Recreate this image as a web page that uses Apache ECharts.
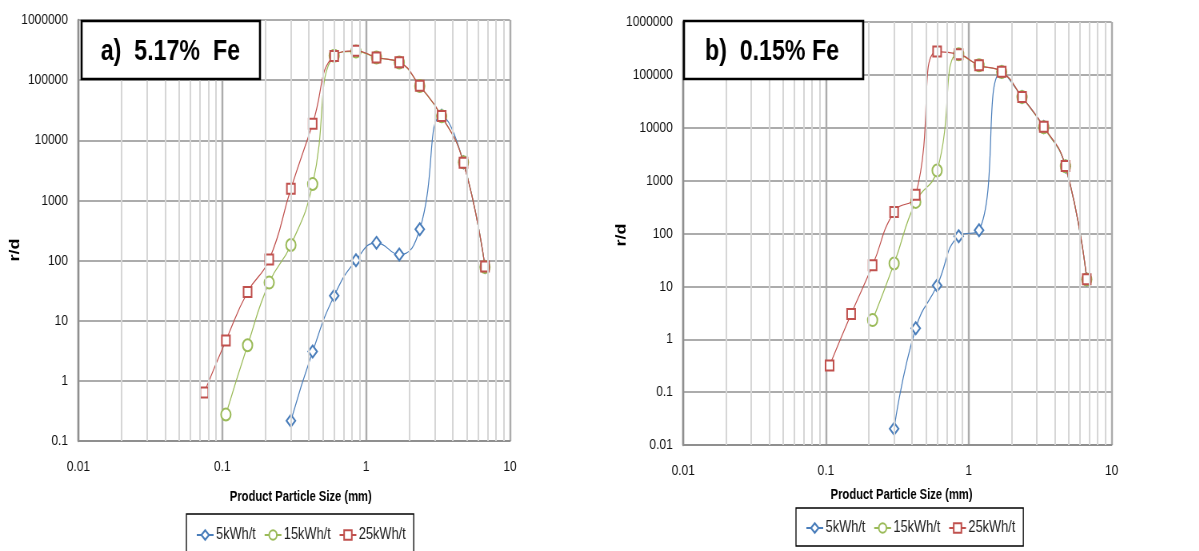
<!DOCTYPE html>
<html>
<head>
<meta charset="utf-8">
<title>r/d vs product particle size</title>
<script src="https://cdn.jsdelivr.net/npm/echarts@6/dist/echarts.min.js"></script>
<style>
  html, body { margin: 0; padding: 0; background: #fff; overflow: hidden; width: 1199px; height: 551px; }
  #wrap { width: 1199px; height: 551px; overflow: hidden; position: relative; }
  /* The figure is laid out on a wider canvas and condensed horizontally,
     giving the narrow lettering and upright oval markers of the plot. */
  #chart { width: 1499px; height: 551px; transform: scaleX(0.8); transform-origin: 0 0; position: absolute; left: 0; top: 0; }
</style>
</head>
<body>
<div id="wrap"><div id="chart"></div></div>
<script>
// Sieve sizes (mm) shared by every curve; each series ends at the coarsest size.
const sizes = [0.075, 0.106, 0.15, 0.212, 0.3, 0.425, 0.6, 0.85, 1.18, 1.7, 2.36, 3.35, 4.75, 6.7];

// Panel a) 5.17% Fe
const a5kWh  = [0.217, 3.07, 26, 101, 197, 126, 331, 25500, 4300, 78];
const a15kWh = [0.275, 3.9, 43, 182, 1870, 255000, 300000, 238000, 196000, 80000, 25000, 4300, 78];
const a25kWh = [0.64, 4.7, 30, 104, 1560, 18900, 253000, 307000, 238000, 199000, 80300, 25300, 4230, 80];

// Panel b) 0.15% Fe
const b5kWh  = [0.0203, 1.61, 10.4, 89, 115, 114000, 38000, 10300, 1850, 13.5];
const b15kWh = [2.3, 27, 396, 1550, 246000, 152000, 113000, 38000, 10200, 1870, 13.5];
const b25kWh = [0.32, 3.0, 25, 256, 543, 276000, 246000, 152000, 114000, 38000, 10500, 1890, 13.6];

const seriesNames = ['5kWh/t', '15kWh/t', '25kWh/t'];
const panelTitles = ['a)  5.17%  Fe', 'b)  0.15% Fe'];
const xAxisTitle = 'Product Particle Size (mm)';
const yAxisTitle = 'r/d';
const minorX = [0.02, 0.03, 0.04, 0.05, 0.06, 0.07, 0.08, 0.09,
                0.2, 0.3, 0.4, 0.5, 0.6, 0.7, 0.8, 0.9,
                2, 3, 4, 5, 6, 7, 8, 9];

const COLORS = ['#4A7EBB', '#9BBB59', '#C0504D'];
const SYMBOLS = [['emptyDiamond', [11, 12]], ['emptyCircle', [12, 12]], ['emptyRect', [10, 10]]];
const FONT = '"Liberation Sans", Arial, sans-serif';

// Align a value list with the tail of the size list.
function pairs(values) {
  const off = sizes.length - values.length;
  return values.map((v, i) => [sizes[off + i], v]);
}

function fmt(v) { return String(+Number(v).toPrecision(6)); }

const grids = [
  { left: 98, top: 20, width: 539.5, height: 421 },
  { left: 854, top: 22, width: 535.5, height: 423 }
];

function xAxisFor(i) {
  return {
    type: 'log', logBase: 10, gridIndex: i, min: 0.01, max: 10, splitNumber: 10, z: 1,
    axisLine: { show: true, lineStyle: { color: '#8f8f8f', width: 2 } },
    axisTick: { show: false },
    axisLabel: { margin: 18, fontSize: 15, color: '#111', fontFamily: FONT, formatter: fmt },
    splitLine: { show: true, lineStyle: { color: '#acacac', width: 2.4 } }
  };
}
function yAxisFor(i, min) {
  return {
    type: 'log', logBase: 10, gridIndex: i, min: min, max: 1000000, splitNumber: 10, z: 1,
    axisLine: { show: true, lineStyle: { color: '#8f8f8f', width: 2.4 } },
    axisTick: { show: false },
    axisLabel: { margin: 13, fontSize: 15, color: '#111', fontFamily: FONT, formatter: fmt },
    splitLine: { show: true, lineStyle: { color: '#acacac', width: 2 } }
  };
}

function curve(idx, panel, values) {
  return {
    type: 'line', name: seriesNames[idx], xAxisIndex: panel, yAxisIndex: panel,
    data: pairs(values), smooth: 0.5, z: 2 + idx,
    symbol: SYMBOLS[idx][0], symbolSize: SYMBOLS[idx][1],
    lineStyle: { width: 1.2, color: COLORS[idx] },
    itemStyle: { color: COLORS[idx], borderColor: COLORS[idx], borderWidth: 1.3 },
    emphasis: { disabled: true }
  };
}

// Light vertical lines at 2..9 within every decade
function minorGrid(panel) {
  return {
    type: 'line', xAxisIndex: panel, yAxisIndex: panel, data: [], silent: true, z: 0,
    markLine: {
      silent: true, animation: false, symbol: ['none', 'none'],
      label: { show: false },
      lineStyle: { color: '#d6d6d6', width: 2, type: 'solid' },
      emphasis: { disabled: true },
      data: minorX.map(v => ({ xAxis: v }))
    }
  };
}

function legendFor(left, top, padTop) {
  return {
    left: left, top: top, orient: 'horizontal',
    data: seriesNames,
    borderColor: '#000', borderWidth: 1.3, backgroundColor: '#fff',
    padding: [padTop, 10, 10, 12],
    itemWidth: 21, itemHeight: 12, itemGap: 10,
    textStyle: { fontFamily: FONT, fontSize: 16, color: '#222', padding: [0, 0, 0, -2] },
    selectedMode: false
  };
}

function titleBox(x, y, w, h, text, cx) {
  return [
    { type: 'rect', z: 100, shape: { x: x, y: y, width: w, height: h },
      style: { fill: '#fff', stroke: '#000', lineWidth: 2.6 } },
    { type: 'text', z: 101, x: cx, y: y + h / 2 + 2,
      style: { text: text, font: 'bold 29px ' + FONT, fill: '#000', align: 'center', verticalAlign: 'middle' } }
  ];
}

function axisTitles(xc, xy, yc, yy) {
  return [
    { type: 'text', z: 100, x: xc, y: xy,
      style: { text: xAxisTitle, font: 'bold 14px ' + FONT, fill: '#000', align: 'center', verticalAlign: 'middle' } },
    { type: 'text', z: 100, x: yc, y: yy, rotation: Math.PI / 2,
      style: { text: yAxisTitle, font: 'bold 18px ' + FONT, fill: '#000', align: 'center', verticalAlign: 'middle' } }
  ];
}

const chart = echarts.init(document.getElementById('chart'), null, { renderer: 'canvas' });
chart.setOption({
  backgroundColor: '#fff',
  animation: false,
  grid: grids,
  xAxis: [xAxisFor(0), xAxisFor(1)],
  yAxis: [yAxisFor(0, 0.1), yAxisFor(1, 0.01)],
  legend: [legendFor(233, 514, 13), legendFor(995, 508, 12)],
  series: [
    minorGrid(0), minorGrid(1),
    curve(0, 0, a5kWh), curve(1, 0, a15kWh), curve(2, 0, a25kWh),
    curve(0, 1, b5kWh), curve(1, 1, b15kWh), curve(2, 1, b25kWh)
  ],
  graphic: [].concat(
    titleBox(102, 21, 223, 58, panelTitles[0], 213),
    titleBox(855, 21, 224, 58, panelTitles[1], 965),
    axisTitles(376, 497, 19, 250),
    axisTitles(1127, 495, 777, 235)
  )
});
</script>
</body>
</html>
